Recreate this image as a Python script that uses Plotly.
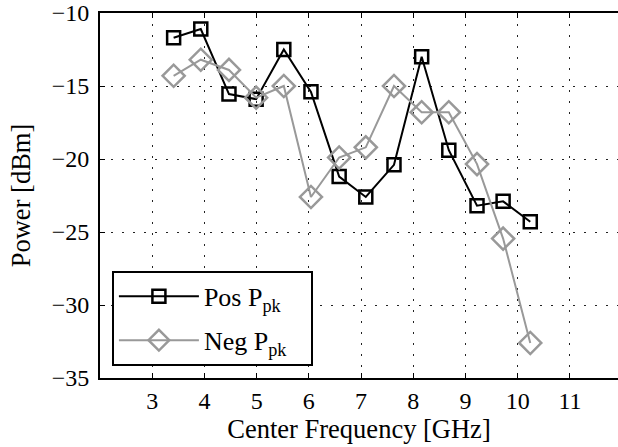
import plotly.graph_objects as go

freq = [3.41, 3.93, 4.47, 4.99, 5.52, 6.04, 6.58, 7.09, 7.63, 8.16, 8.68, 9.22, 9.72, 10.24]
pos_ppk = [-11.7, -11.1, -15.55, -15.9, -12.5, -15.4, -21.2, -22.6, -20.4, -13.0, -19.4, -23.2, -22.9, -24.3]
neg_ppk = [-14.3, -13.2, -13.9, -15.8, -15.0, -22.6, -19.9, -19.2, -15.0, -16.8, -16.8, -20.35, -25.45, -32.6]
x_ticks = [3, 4, 5, 6, 7, 8, 9, 10, 11]
y_ticks = [-35, -30, -25, -20, -15, -10]

FONT = "Liberation Serif"
PAD = "\u00a0\u00a0\u00a0"

fig = go.Figure()
fig.add_trace(go.Scatter(
    x=freq, y=pos_ppk, mode="lines+markers", name="Pos P<sub>pk</sub>" + PAD,
    legendgroup="pos",
    line=dict(color="black", width=2),
    marker=dict(symbol="square-open", size=13, color="black", line=dict(width=2.5)),
))
fig.add_trace(go.Scatter(
    x=freq, y=neg_ppk, mode="lines+markers", name="Neg P<sub>pk</sub>" + PAD,
    legendgroup="neg",
    line=dict(color="#999999", width=2),
    marker=dict(symbol="diamond-open", size=17, color="#999999", line=dict(width=2.5)),
))

fig.update_layout(
    width=618, height=447,
    margin=dict(l=100, r=0, t=13, b=69),
    paper_bgcolor="white", plot_bgcolor="white",
    font=dict(family=FONT, size=24, color="black"),
    showlegend=True,
    legend=dict(
        x=0.023, y=0.033, xanchor="left", yanchor="bottom",
        bgcolor="white", bordercolor="black", borderwidth=2,
        font=dict(family=FONT, size=26, color="black"),
        itemwidth=80,
        traceorder="grouped",
        tracegroupgap=7,
    ),
)
fig.update_xaxes(
    range=[2, 11.92], tickvals=x_ticks, ticktext=[str(v) for v in x_ticks],
    showline=True, linecolor="black", linewidth=2, mirror="ticks",
    ticks="inside", ticklen=5, tickcolor="black", tickwidth=1,
    showgrid=True, gridcolor="#222222", gridwidth=1, griddash="2px,9px",
    zeroline=False,
    title=dict(text="Center Frequency [GHz]", standoff=2, font=dict(size=26.5)),
    tickfont=dict(size=24),
)
fig.update_yaxes(
    range=[-35, -10], tickvals=y_ticks,
    showline=True, linecolor="black", linewidth=2, mirror=False,
    ticks="inside", ticklen=5, tickcolor="black", tickwidth=1,
    showgrid=True, gridcolor="#222222", gridwidth=1, griddash="2px,9px",
    zeroline=False, ticklabelstandoff=4,
    title=dict(text="Power [dBm]", standoff=13, font=dict(size=26.5)),
    tickfont=dict(size=24),
)

fig.write_html("out.html")
